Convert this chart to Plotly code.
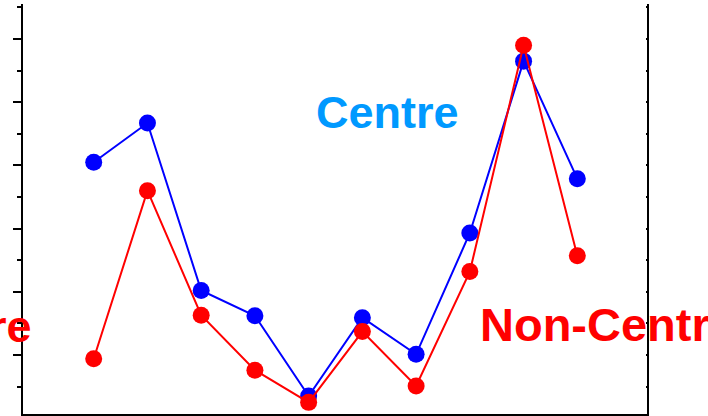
import plotly.graph_objects as go

x_vals = [1, 2, 3, 4, 5, 6, 7, 8, 9, 10]
centre = [40.5, 46.7, 20.2, 16.2, 3.5, 15.9, 10.1, 29.3, 56.5, 37.9]
non_centre = [9.4, 36.0, 16.3, 7.6, 2.5, 13.7, 5.1, 23.2, 59.0, 25.7]

fig = go.Figure()
fig.add_trace(go.Scatter(x=x_vals, y=centre, mode="lines+markers",
                         line=dict(color="#0000FF", width=2),
                         marker=dict(color="#0000FF", size=17),
                         cliponaxis=False, showlegend=False))
fig.add_trace(go.Scatter(x=x_vals, y=non_centre, mode="lines+markers",
                         line=dict(color="#FF0000", width=2),
                         marker=dict(color="#FF0000", size=17),
                         cliponaxis=False, showlegend=False))

yrange = [0.66, 65.54]
fig.update_layout(
    width=708, height=416,
    margin=dict(l=23, r=61, t=4, b=2),
    plot_bgcolor="white", paper_bgcolor="white",
    xaxis=dict(range=[-0.316, 11.297], showgrid=False, zeroline=False,
               showline=True, linecolor="black", linewidth=2,
               showticklabels=False, ticks=""),
    yaxis=dict(range=yrange, showgrid=False, zeroline=False,
               showline=True, linecolor="black", linewidth=2, mirror=True,
               ticks="outside", ticklen=8, tickwidth=2, tickcolor="black",
               tickvals=[10, 20, 30, 40, 50, 60], showticklabels=False,
               minor=dict(tickvals=[5, 15, 25, 35, 45, 55, 65], ticks="outside",
                          ticklen=4, tickwidth=2, tickcolor="black")),
    yaxis2=dict(range=yrange, overlaying="y", side="right", showgrid=False,
                zeroline=False, showline=False, ticks="inside", ticklen=1,
                tickwidth=2, tickcolor="black", showticklabels=False,
                tickvals=[5, 10, 15, 20, 25, 30, 35, 40, 45, 50, 55, 60, 65]),
    font=dict(family="Liberation Sans"),
)
fig.add_trace(go.Scatter(x=[None], y=[None], yaxis="y2", showlegend=False))

fig.add_annotation(x=6.46, y=48.3, xref="x", yref="y", text="<b>Centre</b>",
                   showarrow=False, font=dict(size=45, color="#0099FF",
                                              family="Liberation Sans"),
                   xanchor="center", yanchor="middle")
fig.add_annotation(x=8.16, y=14.75, xref="x", yref="y", text="<b>Non-Centre</b>",
                   showarrow=False, font=dict(size=47, color="#FF0000",
                                              family="Liberation Sans"),
                   xanchor="left", yanchor="middle")
fig.add_annotation(x=-0.11, y=14.45, xref="x", yref="y", text="<b>Centre</b>",
                   showarrow=False, font=dict(size=45, color="#FF0000",
                                              family="Liberation Sans"),
                   xanchor="right", yanchor="middle")

fig.write_html("out.html")
